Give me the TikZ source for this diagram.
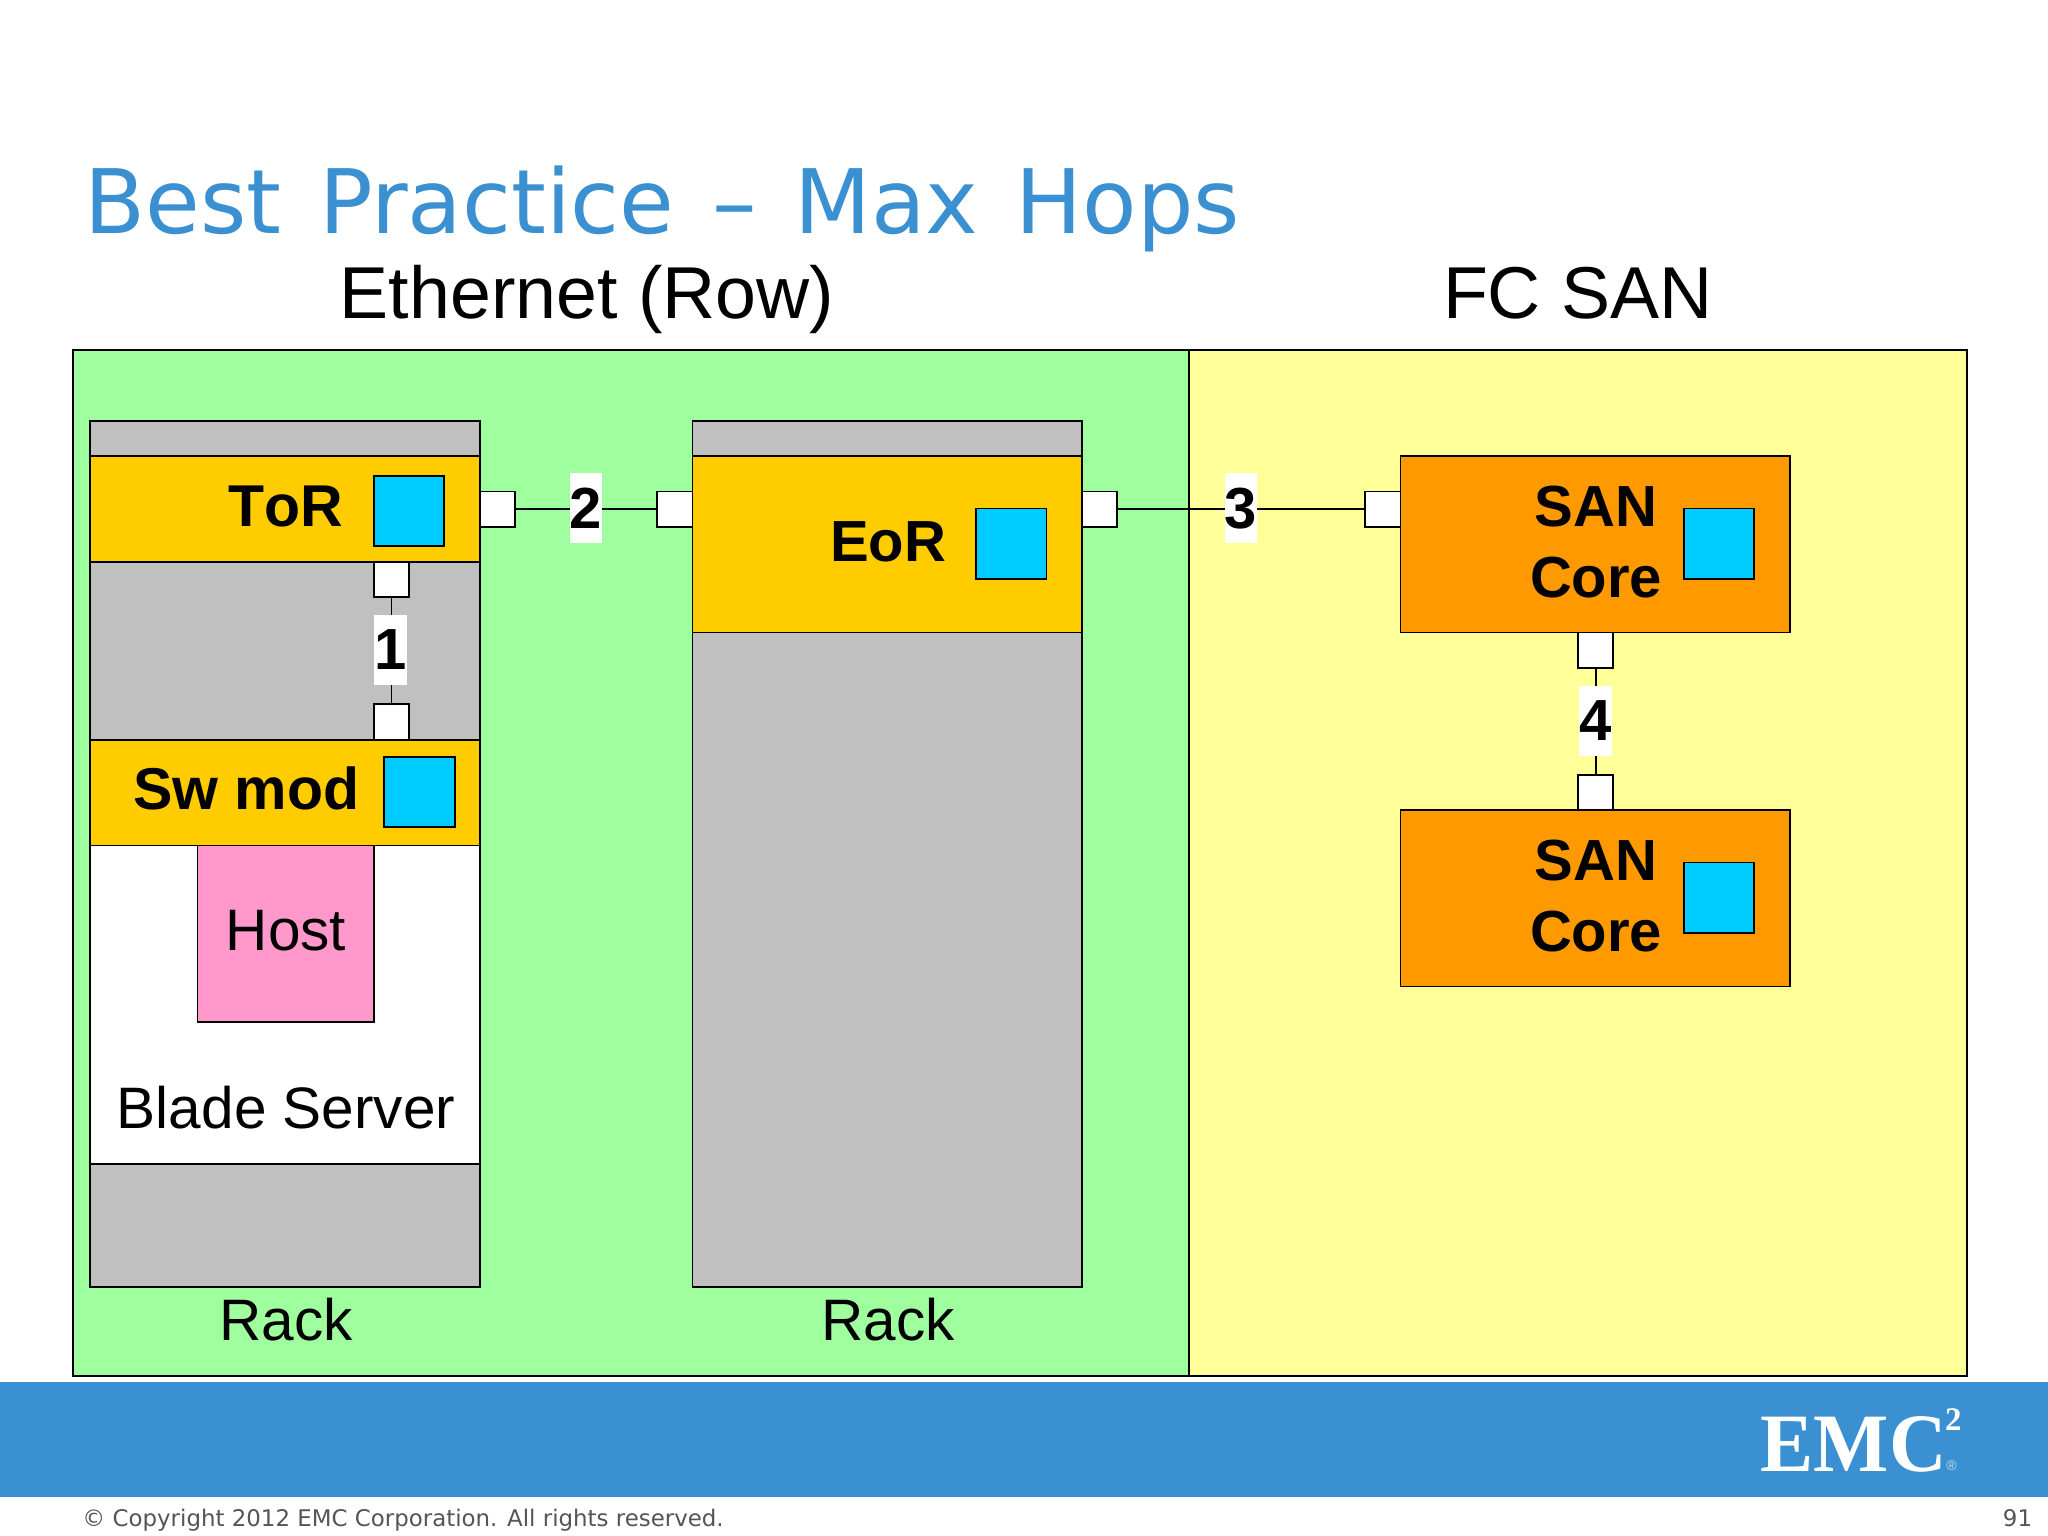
\documentclass[tikz,border=0pt]{standalone}
\usepackage{fontspec}
\setmainfont[Kerning=Off]{Liberation Sans}
\newfontfamily\verd{DejaVu Sans}
\newfontfamily\emcfont{Liberation Serif}
\definecolor{emcblue}{HTML}{3A90D0}
\definecolor{ethgreen}{HTML}{9FFF9F}
\definecolor{fcyellow}{HTML}{FFFF99}
\definecolor{swgold}{HTML}{FFCC00}
\definecolor{sanorange}{HTML}{FF9900}
\definecolor{chipblue}{HTML}{00CCFF}
\definecolor{hostpink}{HTML}{FF99CC}
\definecolor{rackgray}{HTML}{C0C0C0}
\definecolor{footgray}{HTML}{555555}
\tikzset{
  block/.style={draw=black, line width=1.8pt, inner sep=0pt, outer sep=0pt, anchor=north west},
  region/.style={block, line width=2pt},
  port/.style={block, fill=white},
  hop/.style={fill=white, inner sep=0pt, outer sep=0pt, minimum width=32.5pt, minimum height=70.5pt,
    font=\fontsize{58}{58}\selectfont\bfseries},
  link/.style={draw=black, line width=1.8pt},
  lbl/.style={inner sep=0pt, outer sep=0pt, anchor=base, font=\fontsize{58.5}{58.5}\selectfont},
  bold lbl/.style={lbl, font=\fontsize{58}{70.5}\selectfont\bfseries, align=center},
  big bold lbl/.style={lbl, font=\fontsize{59}{70.5}\selectfont\bfseries, align=center},
  head/.style={lbl, font=\fontsize{73.5}{73.5}\selectfont},
}
% name, style, x1, y1, x2, y2 in 1568-wide coordinates
\newcommand\blk[6]{\node[#2, minimum width={(#5-#3)*1.3061pt}, minimum height={(#6-#4)*1.3061pt}] (#1) at (#3+0.2,#4+0.3) {};}
\begin{document}
\begin{tikzpicture}[x=1.3061pt,y=-1.3061pt]
\useasboundingbox (0pt,0pt) rectangle (2048pt,-1536pt);
\fill[white] (0pt,0pt) rectangle (2048pt,-1536pt);

% title and headers
\node[anchor=base west, inner sep=0pt, text=emcblue, font=\fontsize{89}{89}\selectfont\verd] (title) at (64.5,178.5) {\spaceskip=37.6pt\relax Best Practice – Max Hops};
\node[head] (ethhead) at (449.5,244) {Ethernet (Row)};
\node[head] (fchead) at (1208,244) {FC SAN};

% regions
\blk{eth}{region, fill=ethgreen}{56}{268}{910}{1053}
\blk{fc}{region, fill=fcyellow}{910}{268}{1506}{1053}

% left rack
\blk{rack1}{block, fill=rackgray}{69}{322}{367}{985}
\blk{tor}{block, fill=swgold}{69}{349}{367}{430}
\blk{blade}{block, fill=white}{69}{647}{367}{891}
\blk{swmod}{block, fill=swgold}{69}{566}{367}{647}
\blk{host}{block, fill=hostpink}{151}{647}{286}{782}
\blk{torchip}{block, fill=chipblue}{286}{364}{340}{418}
\blk{swchip}{block, fill=chipblue}{294}{579}{348}{633}

% right rack
\blk{rack2}{block, fill=rackgray}{530}{322}{828}{985}
\blk{eor}{block, fill=swgold}{530}{349}{828}{484}
\blk{eorchip}{block, fill=chipblue}{747}{389}{801}{443}

% SAN cores
\blk{san1}{block, fill=sanorange}{1072}{349}{1370}{484}
\blk{san1chip}{block, fill=chipblue}{1289}{389}{1343}{443}
\blk{san2}{block, fill=sanorange}{1072}{620}{1370}{755}
\blk{san2chip}{block, fill=chipblue}{1289}{660}{1343}{714}

% ports
\blk{p1a}{port}{286}{430}{313}{457}
\blk{p1b}{port}{286}{539}{313}{566}
\blk{p2a}{port}{367}{376}{394}{403}
\blk{p2b}{port}{503}{376}{530}{403}
\blk{p3a}{port}{828}{376}{855}{403}
\blk{p3b}{port}{1045}{376}{1072}{403}
\blk{p4a}{port}{1208}{484}{1235}{511}
\blk{p4b}{port}{1208}{593}{1235}{620}

% hops
\draw[link] (p1a) -- (p1b);
\draw[link] (p2a) -- (p2b);
\draw[link] (p3a) -- (p3b);
\draw[link] (p4a) -- (p4b);
\node[hop] (hop1) at (299,497.5) {1};
\node[hop] (hop2) at (448.5,389) {2};
\node[hop] (hop3) at (950,389) {3};
\node[hop] (hop4) at (1221.5,552) {4};

% labels
\node[big bold lbl] (torlbl) at (218.5,403) {ToR};
\node[big bold lbl] (swlbl) at (188.5,620) {Sw mod};
\node[bold lbl] (eorlbl) at (680,430) {EoR};
\node[bold lbl] (san1lbl) at (1222,403) {SAN};
\node[bold lbl] (core1lbl) at (1222,457.5) {Core};
\node[bold lbl] (san2lbl) at (1222,674) {SAN};
\node[bold lbl] (core2lbl) at (1222,728.5) {Core};
\node[lbl] (hostlbl) at (219,728) {Host};
\node[lbl] (bladelbl) at (219,864) {Blade Server};
\node[lbl] (rack1lbl) at (219,1026) {Rack};
\node[lbl] (rack2lbl) at (680,1026) {Rack};

% footer
\blk{band}{inner sep=0pt, outer sep=0pt, anchor=north west, fill=emcblue}{-2}{1058}{1570}{1146}
\node[anchor=base west, inner sep=0pt, text=white, xscale=.96, transform shape, font=\fontsize{83}{83}\selectfont\emcfont\bfseries] (emc) at (1348,1127) {EMC};
\node[anchor=base west, inner sep=0pt, text=white, font=\fontsize{33}{33}\selectfont\emcfont\bfseries] (emctwo) at (1489,1095) {2};
\node[anchor=base west, inner sep=0pt, text=white!70!emcblue, font=\fontsize{14}{14}\selectfont] (emcreg) at (1490,1126) {®};
\node[anchor=base west, inner sep=0pt, text=footgray, font=\fontsize{22.9}{23}\selectfont\verd] (copy) at (63,1169) {© Copyright 2012 EMC Corporation. All rights reserved.};
\node[anchor=base east, inner sep=0pt, text=footgray, font=\fontsize{22.9}{23}\selectfont\verd] (page) at (1556,1169) {91};
\end{tikzpicture}
\end{document}
